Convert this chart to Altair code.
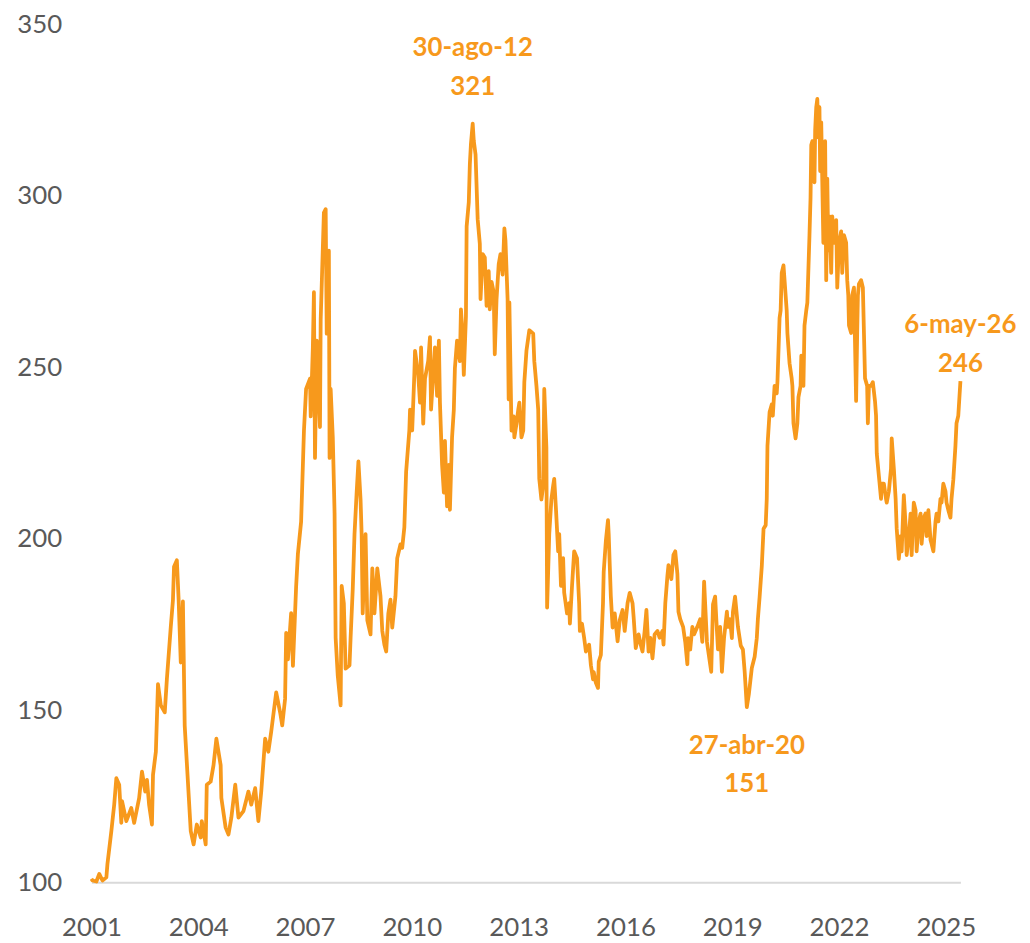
import altair as alt
import pandas as pd

# ---- data (x in axis years, y in index points) ----
years = [
    2001.00, 2001.03, 2001.14, 2001.22, 2001.31, 2001.42, 2001.45, 2001.56, 2001.64, 2001.70,
    2001.78, 2001.84, 2001.86, 2001.98, 2002.12, 2002.20, 2002.34, 2002.42, 2002.51, 2002.56,
    2002.62, 2002.70, 2002.73, 2002.81, 2002.87, 2002.95, 2003.06, 2003.12, 2003.23, 2003.29,
    2003.32, 2003.40, 2003.45, 2003.51, 2003.57, 2003.62, 2003.71, 2003.79, 2003.87, 2003.96,
    2004.07, 2004.10, 2004.21, 2004.24, 2004.35, 2004.43, 2004.51, 2004.63, 2004.65, 2004.77,
    2004.85, 2004.93, 2005.04, 2005.13, 2005.27, 2005.41, 2005.49, 2005.60, 2005.69, 2005.77,
    2005.88, 2005.97, 2006.05, 2006.19, 2006.30, 2006.36, 2006.44, 2006.47, 2006.52, 2006.61,
    2006.66, 2006.75, 2006.80, 2006.89,
    2006.97, 2007.03, 2007.14, 2007.16, 2007.22, 2007.25, 2007.28, 2007.33, 2007.42, 2007.44,
    2007.53, 2007.58, 2007.61, 2007.67, 2007.69, 2007.72, 2007.78, 2007.83, 2007.86, 2007.92,
    2008.00, 2008.03, 2008.09, 2008.14, 2008.25, 2008.28, 2008.34, 2008.39, 2008.45, 2008.50,
    2008.56, 2008.59, 2008.62, 2008.70, 2008.75, 2008.84, 2008.89, 2008.95, 2009.03, 2009.12,
    2009.17, 2009.23, 2009.28, 2009.34, 2009.40, 2009.45, 2009.54, 2009.59, 2009.68, 2009.73,
    2009.79, 2009.84, 2009.93, 2009.95, 2010.01, 2010.07, 2010.09, 2010.18, 2010.23, 2010.26,
    2010.32, 2010.37, 2010.46, 2010.51, 2010.54, 2010.60, 2010.65, 2010.71, 2010.76, 2010.79,
    2010.85, 2010.90, 2010.93, 2010.99, 2011.04, 2011.07, 2011.13, 2011.18, 2011.21, 2011.27,
    2011.35, 2011.38, 2011.43, 2011.46, 2011.52, 2011.54, 2011.60, 2011.63, 2011.66, 2011.71,
    2011.74, 2011.79, 2011.85, 2011.91, 2011.93, 2011.99, 2012.05, 2012.10, 2012.16, 2012.19,
    2012.24, 2012.30, 2012.33, 2012.38, 2012.44, 2012.49, 2012.55, 2012.60, 2012.63, 2012.69,
    2012.72, 2012.74, 2012.80, 2012.86, 2012.88, 2012.94, 2012.99, 2013.02, 2013.08, 2013.13,
    2013.16, 2013.22, 2013.30, 2013.41, 2013.44, 2013.50, 2013.55, 2013.58, 2013.64, 2013.69,
    2013.72, 2013.78, 2013.80, 2013.86, 2013.92, 2013.97, 2014.00, 2014.05, 2014.11, 2014.14,
    2014.19, 2014.25, 2014.28, 2014.36, 2014.42, 2014.44, 2014.50, 2014.56, 2014.64, 2014.70,
    2014.72, 2014.78, 2014.84, 2014.89, 2014.98, 2015.03, 2015.09, 2015.11, 2015.17, 2015.23,
    2015.25, 2015.31, 2015.37, 2015.39, 2015.45, 2015.51, 2015.53, 2015.59, 2015.64, 2015.70,
    2015.78, 2015.84, 2015.92, 2015.98, 2016.06, 2016.12, 2016.20, 2016.23, 2016.29, 2016.37,
    2016.43, 2016.48, 2016.54, 2016.59, 2016.65, 2016.70, 2016.76, 2016.82, 2016.90, 2016.96,
    2017.04, 2017.07, 2017.12, 2017.18, 2017.21, 2017.29, 2017.35, 2017.40,
    2017.46, 2017.49, 2017.54, 2017.62, 2017.68, 2017.74, 2017.76, 2017.82, 2017.88, 2017.93,
    2018.02, 2018.10, 2018.16, 2018.21, 2018.29, 2018.32, 2018.41, 2018.46, 2018.52, 2018.57,
    2018.60, 2018.66, 2018.71, 2018.77, 2018.85, 2018.88, 2018.94, 2018.99, 2019.02, 2019.08,
    2019.13, 2019.16, 2019.24, 2019.30, 2019.35, 2019.41, 2019.47, 2019.55, 2019.63, 2019.69,
    2019.72, 2019.77, 2019.83, 2019.88, 2019.94, 2019.97, 2019.99, 2020.05, 2020.11, 2020.14,
    2020.19, 2020.25, 2020.27, 2020.33, 2020.36, 2020.39, 2020.44, 2020.47, 2020.53, 2020.55,
    2020.61, 2020.67, 2020.69, 2020.72, 2020.78, 2020.83, 2020.86, 2020.92, 2020.94, 2021.00,
    2021.03, 2021.08, 2021.11, 2021.17, 2021.20, 2021.22, 2021.25, 2021.31, 2021.33, 2021.36,
    2021.39, 2021.42, 2021.45, 2021.47, 2021.50, 2021.56, 2021.61, 2021.64, 2021.67, 2021.70,
    2021.73, 2021.78, 2021.81, 2021.86, 2021.92, 2021.95, 2022.00, 2022.06, 2022.09, 2022.14,
    2022.20, 2022.23, 2022.26, 2022.28, 2022.34, 2022.37, 2022.42, 2022.48, 2022.51, 2022.53,
    2022.56, 2022.62, 2022.67, 2022.70, 2022.73, 2022.79, 2022.81, 2022.84, 2022.90, 2022.95,
    2023.01, 2023.04, 2023.06, 2023.12, 2023.18, 2023.20, 2023.26, 2023.32, 2023.34, 2023.40,
    2023.46, 2023.48, 2023.54, 2023.59, 2023.62, 2023.68, 2023.73, 2023.76, 2023.82, 2023.87,
    2023.90, 2023.96, 2024.01, 2024.04, 2024.10, 2024.15, 2024.18, 2024.24, 2024.29, 2024.32,
    2024.38, 2024.43, 2024.46, 2024.51, 2024.57, 2024.60, 2024.65, 2024.71, 2024.74, 2024.79,
    2024.85, 2024.88, 2024.93, 2024.99, 2025.02, 2025.07, 2025.13, 2025.16, 2025.21, 2025.27,
    2025.30, 2025.35, 2025.41,
]

values = [
    101.0, 100.5, 100.2, 102.4, 100.5, 101.4, 105.3, 114.9, 122.6, 130.3,
    128.4, 117.3, 123.6, 117.8, 121.6, 117.3, 124.5, 132.2, 126.4, 129.8,
    122.6, 116.8, 131.3, 138.0, 157.7, 151.5, 149.5, 159.2, 174.5, 182.2,
    191.9, 193.8, 182.2, 164.0, 181.8, 145.7, 129.3, 114.9, 111.0, 116.8,
    113.0, 117.8, 111.0, 128.4, 129.3, 134.1, 141.8, 134.1, 124.5, 115.9,
    113.9, 118.8, 128.4, 118.8, 120.7, 126.4, 122.6, 127.4, 117.8, 126.4,
    141.8, 138.0, 143.8, 155.3, 149.5, 145.7, 153.4, 172.6, 164.9, 178.4,
    163.0, 186.1, 195.7, 205.0,
    231.6, 243.7, 246.7, 235.7, 255.8, 271.9, 223.6, 257.8, 232.6, 263.9,
    295.1, 296.1, 259.8, 284.0, 223.6, 243.7, 229.6, 207.5, 171.2, 160.1,
    151.5, 186.3, 181.3, 162.2, 163.2, 171.2, 185.3, 201.4, 213.5, 222.6,
    211.5, 201.4, 178.3, 201.4, 176.3, 172.2, 191.4, 178.3, 191.4, 183.3,
    173.2, 169.2, 167.2, 178.3, 182.3, 174.2, 183.3, 194.4, 198.4, 197.4,
    203.4, 219.6, 231.6, 237.7, 231.6, 247.8, 254.8, 247.8, 239.7, 255.8,
    233.6, 246.7, 251.8, 258.8, 237.7, 247.8, 255.8, 241.7, 257.8, 239.7,
    221.6, 213.5, 228.6, 209.5, 221.6, 208.5, 229.6, 237.7, 249.8, 257.8,
    251.8, 266.9, 258.8, 247.8, 264.9, 291.1, 298.1, 309.2, 315.0, 321.0,
    316.0, 312.0, 293.1, 286.0, 269.9, 283.0, 282.0, 267.9, 278.0, 266.9,
    274.9, 271.9, 253.8, 269.9, 280.0, 283.0, 277.0, 290.5, 287.0, 269.9,
    240.7, 268.9, 231.6, 235.7, 229.6, 233.6, 237.7, 239.7, 229.6, 231.6,
    245.7, 254.8, 260.8, 259.8, 251.8, 244.7, 237.7, 217.5, 211.5, 215.5,
    243.7, 226.6, 180.0, 201.4, 211.5, 215.5, 217.5, 208.5, 196.4, 201.4,
    186.3, 194.4, 184.3, 178.3, 181.3, 175.3, 186.3, 196.4, 194.4, 181.3,
    173.2, 175.3, 171.2, 167.2, 169.2, 163.2, 159.1, 161.2, 158.1, 156.6,
    164.2, 166.2, 181.3, 190.4, 199.4, 205.5, 201.4, 183.3, 174.2, 178.3,
    170.2, 176.3, 179.3, 173.2, 181.3, 184.3, 181.3, 177.3, 168.2, 172.2,
    169.2, 167.2, 173.2, 179.3, 167.2, 171.2, 165.2, 172.2, 173.2, 171.2,
    173.2, 169.2, 181.3, 189.3, 192.4, 188.3, 195.4, 196.4,
    189.8, 178.8, 176.6, 174.4, 170.0, 163.5, 171.1, 167.8, 174.4, 172.2,
    174.4, 176.6, 170.0, 187.6, 170.0, 167.8, 161.3, 181.0, 183.2, 173.3,
    167.8, 174.4, 161.3, 171.1, 178.8, 174.4, 176.6, 171.1, 178.8, 183.2,
    177.7, 174.4, 168.9, 167.8, 161.3, 151.0, 155.0, 162.4, 165.7, 171.1,
    176.6, 183.2, 192.0, 203.0, 204.0, 211.7, 227.1, 237.0, 239.2, 235.9,
    244.6, 242.4, 245.7, 264.4, 266.6, 277.5, 279.7, 275.4, 266.6, 260.0,
    251.2, 246.8, 244.6, 233.7, 229.3, 233.7, 241.3, 244.6, 253.4, 244.6,
    262.2, 266.6, 268.8, 288.5, 299.5, 314.8, 315.9, 303.9, 319.2, 325.8,
    328.2, 317.0, 325.8, 307.2, 321.4, 286.3, 315.9, 275.4, 305.0, 284.1,
    294.0, 277.5, 294.0, 286.3, 292.9, 273.2, 286.3, 289.6, 277.5, 288.5,
    286.3, 275.4, 271.0, 262.2, 260.0, 271.0, 273.2, 240.2, 260.0, 271.0,
    274.3, 275.4, 273.2, 260.0, 246.8, 244.6, 233.7, 244.6, 244.6, 245.7,
    240.2, 235.9, 224.9, 218.3, 211.7, 216.1, 216.1, 211.7, 210.6, 213.9,
    220.5, 229.3, 220.5, 211.7, 203.0, 194.2, 200.8, 196.4, 212.8, 204.1,
    195.3, 200.8, 207.4, 195.3, 210.6, 208.4, 196.4, 205.1, 207.4, 198.6,
    206.2, 207.4, 200.8, 208.4, 199.7, 198.6, 196.4, 205.1, 207.4, 205.1,
    211.7, 210.6, 216.1, 213.9, 210.6, 208.4, 206.2, 211.7, 217.2, 227.1,
    233.7, 235.9, 246.0,
]

x_ticks = [2001, 2004, 2007, 2010, 2013, 2016, 2019, 2022, 2025]
y_ticks = [100, 150, 200, 250, 300, 350]

ann_dates = ["30-ago-12", "27-abr-20", "6-may-26"]
ann_years = [2011.71, 2019.41, 2025.41]
ann_values = [321, 151, 246]

# ---- styling ----
ORANGE = "#F7991C"
FONT = "Lato"
LABEL_COLOR = "#595959"

df = pd.DataFrame({"year": years, "value": values})
ann = pd.DataFrame({"year": ann_years, "value": ann_values, "date": ann_dates})

x_scale = alt.Scale(domain=[2001, 2025.41], nice=False, zero=False)
y_scale = alt.Scale(domain=[100, 350], nice=False, zero=False)

line = alt.Chart(df).mark_line(
    color=ORANGE, strokeWidth=3.8, strokeJoin="round"
).encode(
    x=alt.X(
        "year:Q",
        scale=x_scale,
        axis=alt.Axis(
            values=x_ticks, format="d", title=None, grid=False, ticks=False,
            tickSize=0, labelPadding=33, labelFontSize=26, labelFont=FONT,
            labelColor=LABEL_COLOR, domainColor="#D9D9D9", domainWidth=2,
            labelFlush=False, labelOverlap=False,
        ),
    ),
    y=alt.Y(
        "value:Q",
        scale=y_scale,
        axis=alt.Axis(
            values=y_ticks, title=None, grid=False, ticks=False, tickSize=0,
            domain=False, labelPadding=30, labelFontSize=26, labelFont=FONT,
            labelColor=LABEL_COLOR, labelFlush=False,
        ),
    ),
)

# vertical offsets (px) of the two text lines for each annotation
offsets = [(-76, -37), (39, 77), (-56, -17)]

layers = [line]
for i, (d1, d2) in enumerate(offsets):
    sub = ann.iloc[[i]]
    base = alt.Chart(sub)
    layers.append(
        base.mark_text(
            dy=d1, font=FONT, fontSize=26, fontWeight="bold", color=ORANGE,
            align="center", baseline="middle",
        ).encode(x=alt.X("year:Q", scale=x_scale), y=alt.Y("value:Q", scale=y_scale), text="date:N")
    )
    layers.append(
        base.mark_text(
            dy=d2, font=FONT, fontSize=26, fontWeight="bold", color=ORANGE,
            align="center", baseline="middle",
        ).encode(
            x=alt.X("year:Q", scale=x_scale),
            y=alt.Y("value:Q", scale=y_scale),
            text=alt.Text("value:Q", format="d"),
        )
    )

chart = alt.layer(*layers).properties(
    width=875,
    height=864,
    autosize=alt.AutoSizeParams(type="none"),
    padding={"left": 84, "top": 13, "right": 62, "bottom": 56},
).configure_view(stroke=None)

chart.save("out.html", embed_options={"renderer": "svg", "actions": False})
